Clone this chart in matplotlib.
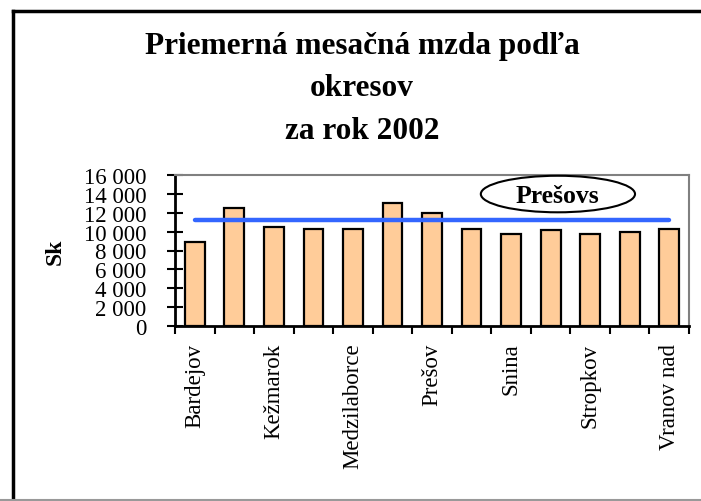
import matplotlib
matplotlib.use("Agg")
import matplotlib.pyplot as plt
from matplotlib.patches import Ellipse
from matplotlib.lines import Line2D
from matplotlib.ticker import FuncFormatter, FixedLocator

# ---- data ----
categories = ["Bardejov", "Humenné", "Kežmarok", "Levoča", "Medzilaborce", "Poprad",
              "Prešov", "Sabinov", "Snina", "Stará Ľubovňa", "Stropkov", "Svidník",
              "Vranov nad Topľou"]
wages = [8900, 12550, 10450, 10300, 10300, 13000, 11950, 10250, 9700, 10180, 9800, 10000, 10300]
kraj_avg = [11260, 11260, 11260, 11260, 11260, 11260, 11260, 11260, 11260, 11260, 11260, 11260, 11260]
shown_labels = ["Bardejov", "", "Kežmarok", "", "Medzilaborce", "", "Prešov", "",
                "Snina", "", "Stropkov", "", "Vranov nad"]
y_ticks = [0, 2000, 4000, 6000, 8000, 10000, 12000, 14000, 16000]
legend_text = "Prešovs"
title = "Priemerná mesačná mzda podľa\nokresov\nza rok 2002"
y_label = "Sk"

W, H, DPI = 701, 502, 100
plt.rcParams["font.family"] = ["Liberation Serif", "DejaVu Serif"]

fig = plt.figure(figsize=(W / DPI, H / DPI), dpi=DPI)
ax = fig.add_axes([175 / W, 1 - 327 / H, (689 - 175) / W, (327 - 176) / H])

x = list(range(len(categories)))
ax.bar(x, wages, width=0.5, color="#FFCC99", edgecolor="black", linewidth=1.6, zorder=2)
ax.plot(x, kraj_avg, color="#3366FF", linewidth=3.2, solid_capstyle="round", zorder=3)

ax.set_xlim(-0.5, len(categories) - 0.5)
ax.set_ylim(0, 16000)

# y axis
ax.set_yticks(y_ticks)
ax.yaxis.set_major_formatter(FuncFormatter(lambda v, p: f"{int(v):,}".replace(",", " ")))
ax.tick_params(axis="y", direction="inout", length=11, width=1.5, labelsize=16.5, pad=15)

# x axis: ticks at boundaries, labels at centres
ax.xaxis.set_major_locator(FixedLocator([i - 0.5 for i in range(len(categories) + 1)]))
ax.xaxis.set_minor_locator(FixedLocator(x))
ax.set_xticklabels([], minor=False)
ax.set_xticklabels(shown_labels, minor=True, rotation=90, fontsize=16.5, va="top")
ax.tick_params(axis="x", which="major", direction="out", length=6, width=1.5)
ax.tick_params(axis="x", which="minor", length=0, pad=12)

for s in ("left", "bottom"):
    ax.spines[s].set_linewidth(2)
    ax.spines[s].set_color("black")
for s in ("top", "right"):
    ax.spines[s].set_linewidth(1.5)
    ax.spines[s].set_color("#808080")

ax.set_ylabel(y_label, fontsize=17, fontweight="bold", labelpad=13)

# ellipse label
ell = Ellipse((0.745, 0.874), 0.30, 0.242, transform=ax.transAxes,
              facecolor="white", edgecolor="black", linewidth=1.5, zorder=4, clip_on=False)
ax.add_patch(ell)
ax.text(0.745, 0.862, legend_text, transform=ax.transAxes, ha="center", va="center",
        fontsize=18.5, fontweight="bold", zorder=5)

# title
fig.text(362 / W, 1 - 89 / H, title, ha="center", va="center", fontsize=22.5,
         fontweight="bold", linespacing=1.6)

# figure border
fig.add_artist(Line2D([13 / W, 13 / W], [0, 1 - 12 / H], color="black", linewidth=2.5,
                      transform=fig.transFigure))
fig.add_artist(Line2D([13 / W, 1], [1 - 12 / H, 1 - 12 / H], color="black", linewidth=2.5,
                      transform=fig.transFigure))
fig.add_artist(Line2D([0, 1], [1 / H, 1 / H], color="#999999", linewidth=1.5,
                      transform=fig.transFigure))

fig.savefig("out.png", dpi=DPI)
